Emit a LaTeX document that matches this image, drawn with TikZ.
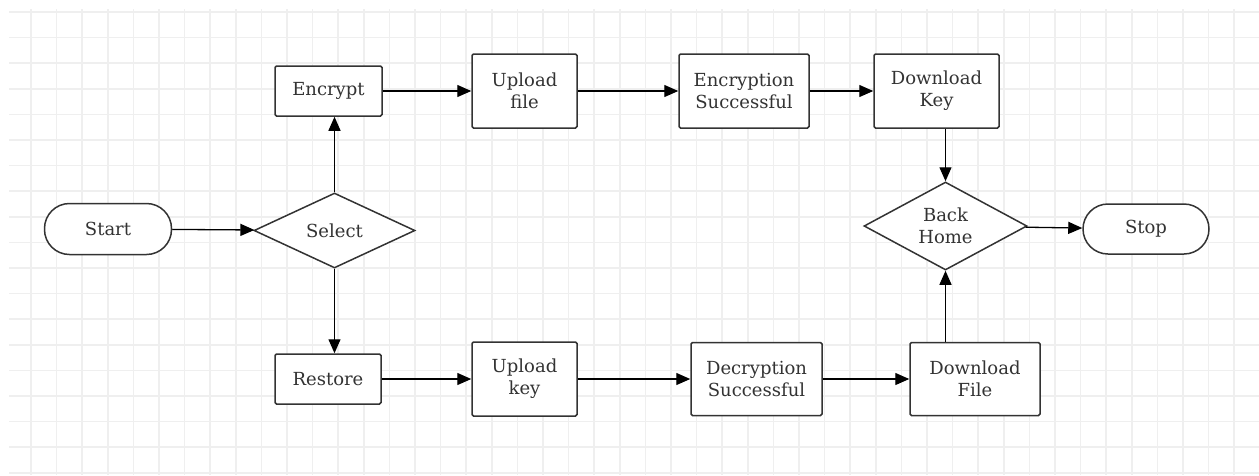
\documentclass[tikz,border=0pt]{standalone}
\usepackage{fontspec}
\setmainfont{DejaVu Serif}
\usetikzlibrary{shapes.geometric,arrows.meta}

\definecolor{gridgray}{HTML}{EFEFEF}
\definecolor{inkgray}{HTML}{333333}

\begin{document}
\begin{tikzpicture}[x=1pt,y=-1pt,
		font=\fontsize{18}{22}\selectfont, text=inkgray,
		box/.style={draw=inkgray, line width=1.5pt, rounded corners=1.5pt, fill=white, align=center, inner sep=0pt},
		term/.style={box, rounded corners=25pt},
		decision/.style={box, diamond, rounded corners=0pt, aspect=2},
		flow/.style={draw=black, line width=1.3pt, -{Triangle[length=14pt,width=12pt]}}]
			\useasboundingbox (0,0) rectangle (1259,475);
			\fill[white] (0,0) rectangle (1259,475);
			% grid
			\foreach \k in {0,...,47}
				\draw[gridgray, line width=1.5pt] (31+25.6*\k,9) -- (31+25.6*\k,475);
			\foreach \k in {0,...,18}
				\draw[gridgray, line width=1.5pt] (9,12+25.6*\k) -- (1259,12+25.6*\k);
			% nodes
			\node[term, minimum width=127pt, minimum height=51pt] (start) at (108,229) {Start};
			\node[decision, minimum width=161pt, minimum height=75pt] (select) at (334.5,230.5) {Select};
			\node[box, minimum width=107pt, minimum height=50pt] (encrypt) at (328.5,91) {Encrypt};
			\node[box, minimum width=105pt, minimum height=74pt] (upfile) at (524.5,91) {Upload\\file};
			\node[box, minimum width=130pt, minimum height=74pt] (encok) at (744,91) {Encryption\\Successful};
			\node[box, minimum width=125pt, minimum height=74pt] (dlkey) at (936.5,91) {Download\\Key};
			\node[decision, minimum width=163pt, minimum height=88pt] (home) at (945.5,226) {Back\\Home};
			\node[term, minimum width=126pt, minimum height=50pt] (stop) at (1146,229) {Stop};
			\node[box, minimum width=106pt, minimum height=50pt] (restore) at (328,379) {Restore};
			\node[box, minimum width=105pt, minimum height=74pt] (upkey) at (524.5,379) {Upload\\key};
			\node[box, minimum width=131pt, minimum height=73pt] (decok) at (756.5,379) {Decryption\\Successful};
			\node[box, minimum width=130pt, minimum height=73pt] (dlfile) at (975,379) {Download\\File};
			% connectors
			\draw[flow] (start) -- (select);
			\draw[flow] (select.north) -- (select.north |- encrypt.south);
			\draw[flow] (select.south) -- (select.south |- restore.north);
			\draw[flow] (encrypt) -- (upfile);
			\draw[flow] (upfile) -- (encok);
			\draw[flow] (encok) -- (dlkey);
			\draw[flow] (home.north |- dlkey.south) -- (home.north);
			\draw[flow] (restore) -- (upkey);
			\draw[flow] (upkey) -- (decok);
			\draw[flow] (decok) -- (dlfile);
			\draw[flow] (home.south |- dlfile.north) -- (home.south);
			\draw[flow] (home) -- (stop);
		\end{tikzpicture}
\end{document}
